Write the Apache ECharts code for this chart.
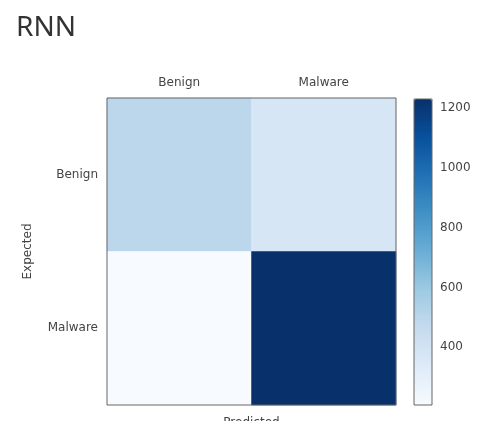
<!DOCTYPE html>
<html>
<head>
<meta charset="utf-8">
<script src="https://cdn.jsdelivr.net/npm/echarts@6/dist/echarts.min.js"></script>
<style>
  html, body { margin: 0; padding: 0; background: #ffffff; }
  #chart { width: 478px; height: 421px; }
</style>
</head>
<body>
<div id="chart"></div>
<script>
// Confusion matrix of the RNN classifier
const classes = ['Benign', 'Malware'];
// rows = expected class, columns = predicted class
const expectedBenign = [495, 378];
const expectedMalware = [207, 1230];
const colorbarTicks = [400, 600, 800, 1000, 1200];
const blues = ['#f7fbff', '#deebf7', '#c6dbef', '#9ecae1', '#6baed6', '#4292c6', '#2171b5', '#08519c', '#08306b'];

const rows = [expectedBenign, expectedMalware];
const cells = [];
rows.forEach((row, r) => row.forEach((v, c) => cells.push([c, r, v])));
const allValues = rows.flat();
const vMin = Math.min(...allValues);
const vMax = Math.max(...allValues);

const labelFont = { fontFamily: 'DejaVu Sans', fontSize: 12, color: '#444' };
const frame = '#666';

const chart = echarts.init(document.getElementById('chart'), null, { renderer: 'canvas' });
chart.setOption({
  backgroundColor: '#ffffff',
  animation: false,
  title: {
    text: 'RNN',
    left: 11, top: 9,
    textStyle: { fontFamily: 'Noto Sans', fontSize: 28, fontWeight: 'normal', color: '#333' }
  },
  grid: [
    { left: 107, top: 98, width: 289, height: 307, show: true, z: 10, outerBoundsMode: 'none',
      backgroundColor: 'transparent', borderColor: frame, borderWidth: 1 },
    { left: 414, top: 99, width: 18, height: 306, show: true, z: 10, outerBoundsMode: 'none',
      backgroundColor: 'transparent', borderColor: frame, borderWidth: 1 }
  ],
  xAxis: [
    { type: 'category', data: classes, gridIndex: 0, position: 'top',
      axisLine: { show: false }, splitLine: { show: false },
      axisTick: { alignWithLabel: true, length: 4, lineStyle: { color: frame } },
      axisLabel: Object.assign({ margin: 9 }, labelFont) },
    { type: 'category', data: classes, gridIndex: 0, position: 'bottom',
      name: 'Predicted', nameLocation: 'middle', nameGap: 12,
      nameTextStyle: labelFont,
      axisLine: { show: false }, splitLine: { show: false },
      axisTick: { alignWithLabel: true, length: 4, lineStyle: { color: frame } },
      axisLabel: { show: false } },
    { type: 'value', gridIndex: 1, show: false, min: 0, max: 1 }
  ],
  yAxis: [
    { type: 'category', data: classes, gridIndex: 0, inverse: true,
      name: 'Expected', nameLocation: 'middle', nameGap: 73, nameRotate: 90,
      nameTextStyle: labelFont,
      axisLine: { show: false }, splitLine: { show: false },
      axisTick: { alignWithLabel: true, length: 4, lineStyle: { color: frame } },
      axisLabel: Object.assign({ margin: 9 }, labelFont) },
    { type: 'value', gridIndex: 1, position: 'right', min: vMin, max: vMax,
      axisLine: { show: false }, splitLine: { show: false },
      axisTick: { show: true, length: 4, customValues: colorbarTicks, lineStyle: { color: frame } },
      axisLabel: Object.assign({ margin: 8, customValues: colorbarTicks,
        formatter: (v) => String(v) }, labelFont) }
  ],
  visualMap: {
    type: 'continuous',
    min: vMin, max: vMax,
    seriesIndex: 0,
    calculable: false,
    realtime: false,
    orient: 'vertical',
    left: 414, top: 99,
    itemWidth: 18, itemHeight: 306,
    padding: 0,
    text: null,
    showLabel: false,
    inRange: { color: blues }
  },
  series: [
    { type: 'heatmap', xAxisIndex: 0, yAxisIndex: 0, data: cells,
      label: { show: false }, itemStyle: { borderWidth: 0 },
      emphasis: { disabled: true } }
  ]
});
</script>
</body>
</html>
